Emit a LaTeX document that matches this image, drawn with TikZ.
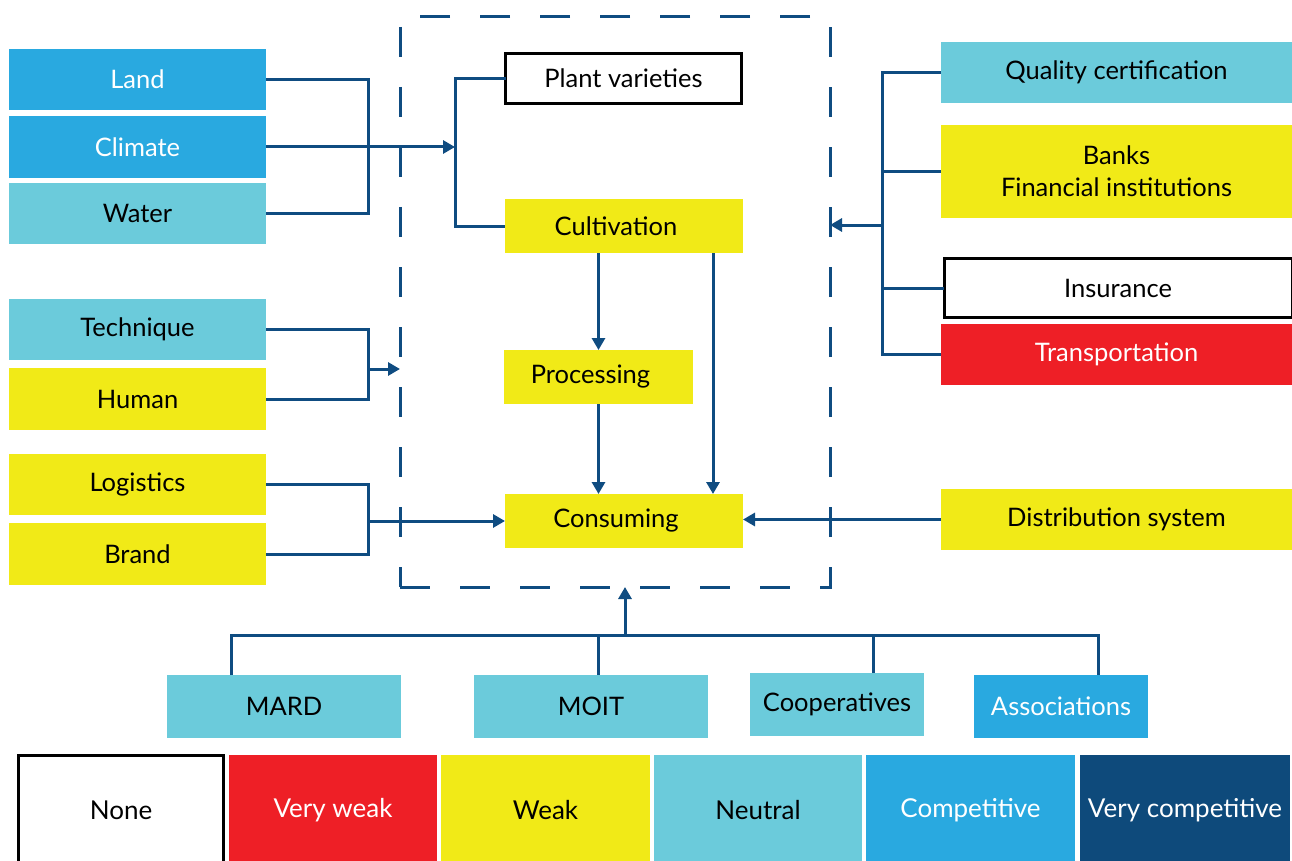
\documentclass[tikz,border=0pt]{standalone}
\usepackage{fontspec}
\setmainfont{Lato}
\usetikzlibrary{arrows.meta}
\definecolor{cBlue}{HTML}{29A9E0}
\definecolor{cCyan}{HTML}{6BCBDB}
\definecolor{cYellow}{HTML}{F1EA17}
\definecolor{cRed}{HTML}{EE1F26}
\definecolor{cNavy}{HTML}{0E4A7B}
\definecolor{cLine}{HTML}{0F4C81}
\tikzset{
  box/.style={rectangle, inner sep=0pt, outer sep=0pt, align=center,
    font=\fontsize{25.5}{32}\selectfont},
  bluebox/.style={box, fill=cBlue, text=white},
  cyanbox/.style={box, fill=cCyan, text=black},
  yellowbox/.style={box, fill=cYellow, text=black},
  redbox/.style={box, fill=cRed, text=white},
  navybox/.style={box, fill=cNavy, text=white},
  whitebox/.style={box, fill=white, draw=black, line width=3pt, text=black},
  legend/.style={font=\fontsize{26}{31}\selectfont},
  conn/.style={draw=cLine, line width=3pt},
  arr/.style={conn, -{Triangle[length=12pt,width=13pt]}},
  zonebox/.style={rectangle, draw=cLine, line width=3pt, dash pattern=on 30pt off 30pt, inner sep=0pt, outer sep=0pt}
}
\begin{document}
\begin{tikzpicture}[x=1pt,y=-1pt]
\clip (0,0) rectangle (1292,861);
\fill[white] (0,0) rectangle (1292,861);

% dashed value-chain frame
\node[zonebox, minimum width=430, minimum height=570] (zone) at (615,302) {};

% natural and human inputs
\node[bluebox,   minimum width=257, minimum height=61] (land)    at (137.5,79.5)  {Land};
\node[bluebox,   minimum width=257, minimum height=62] (climate) at (137.5,147)   {Climate};
\node[cyanbox,   minimum width=257, minimum height=61] (water)   at (137.5,213.5) {Water};
\node[cyanbox,   minimum width=257, minimum height=61] (tech)    at (137.5,329.5) {Technique};
\node[yellowbox, minimum width=257, minimum height=62] (human)   at (137.5,399)   {Human};
\node[yellowbox, minimum width=257, minimum height=61] (logist)  at (137.5,484.5) {Logistics};
\node[yellowbox, minimum width=257, minimum height=62] (brand)   at (137.5,554)   {Brand};

% chain stages
\node[whitebox,  minimum width=236, minimum height=50] (plant) at (623.5,78.5) {Plant varieties};
\node[yellowbox, minimum width=238, minimum height=54] (cult)  at (624,226)    {\hspace*{-16pt}Cultivation};
\node[yellowbox, minimum width=189, minimum height=54] (proc)  at (598.5,377)  {\hspace*{-16pt}Processing};
\node[yellowbox, minimum width=238, minimum height=54] (cons)  at (624,521)    {\hspace*{-16pt}Consuming};

% supporting services
\node[cyanbox,   minimum width=351, minimum height=61] (qual)  at (1116.5,72.5)  {Quality certification};
\node[yellowbox, minimum width=351, minimum height=93] (banks) at (1116.5,171.5) {Banks\\Financial institutions};
\node[whitebox,  minimum width=348, minimum height=59] (ins)   at (1118,288)     {Insurance};
\node[redbox,    minimum width=351, minimum height=61] (trans) at (1116.5,354.5) {Transportation};
\node[yellowbox, minimum width=351, minimum height=61] (dist)  at (1116.5,519.5) {Distribution system};

% institutions
\node[cyanbox, minimum width=234, minimum height=63] (mard)  at (284,706.5)  {MARD};
\node[cyanbox, minimum width=234, minimum height=63] (moit)  at (591,706.5)  {MOIT};
\node[cyanbox, minimum width=174, minimum height=63] (coop)  at (837,704.5)  {Cooperatives};
\node[bluebox, minimum width=174, minimum height=63] (assoc) at (1061,706.5) {Associations};

% legend
\node[whitebox,  legend, minimum width=205, minimum height=110] (lg1) at (121,810)    {None};
\node[redbox,    legend, minimum width=208, minimum height=110] (lg2) at (333,810)    {Very weak};
\node[yellowbox, legend, minimum width=209, minimum height=110] (lg3) at (545.5,810)  {Weak};
\node[cyanbox,   legend, minimum width=208, minimum height=110] (lg4) at (758,810)    {Neutral};
\node[bluebox,   legend, minimum width=209, minimum height=110] (lg5) at (970.5,810)  {Competitive};
\node[navybox,   legend, minimum width=210, minimum height=110] (lg6) at (1185,810)   {Very competitive};

% junction points
\coordinate (b1) at (368,147);
\coordinate (jA) at (455,147);
\coordinate (b2) at (368,369);
\coordinate (b3) at (368,521);
\coordinate (rb) at (882,225);
\coordinate (bb) at (625,635);
\coordinate (t1) at (231,635);
\coordinate (t2) at (598,635);
\coordinate (t3) at (873,635);
\coordinate (t4) at (1098,635);

% natural inputs into cultivation
\draw[conn] (land.east) -| (b1) |- (water.east);
\draw[arr] (climate.east) -- (jA);
\draw[conn] (plant.west) -| (jA) |- (cult.west);

% human inputs
\draw[conn] (tech.east) -| (b2) |- (human.east);
\draw[arr] (b2) -- (zone.west |- b2);

% market inputs
\draw[conn] (logist.east) -| (b3) |- (brand.east);
\draw[arr] (b3) -- (cons.west);

% flow through the chain
\draw[arr] (cult.south -| proc.north) -- (proc.north);
\draw[arr] (proc.south) -- (proc.south |- cons.north);
\draw[arr] ([xshift=-30pt]cult.south east) -- ([xshift=-30pt]cons.north east);
\draw[arr] (dist.west) -- (dist.west -| cons.east);

% services
\draw[conn] (qual.west) -| (trans.west -| rb) -- (trans.west);
\draw[conn] (banks.west) -- (banks.west -| rb);
\draw[conn] (ins.west) -- (ins.west -| rb);
\draw[arr] (rb) -- (zone.east |- rb);

% institutions
\draw[conn] (t1 |- mard.north) |- (t4) -- (t4 |- assoc.north);
\draw[conn] (t2) -- (t2 |- moit.north);
\draw[conn] (t3) -- (t3 |- coop.north);
\draw[arr] (bb) -- (zone.south -| bb);
\end{tikzpicture}
\end{document}
